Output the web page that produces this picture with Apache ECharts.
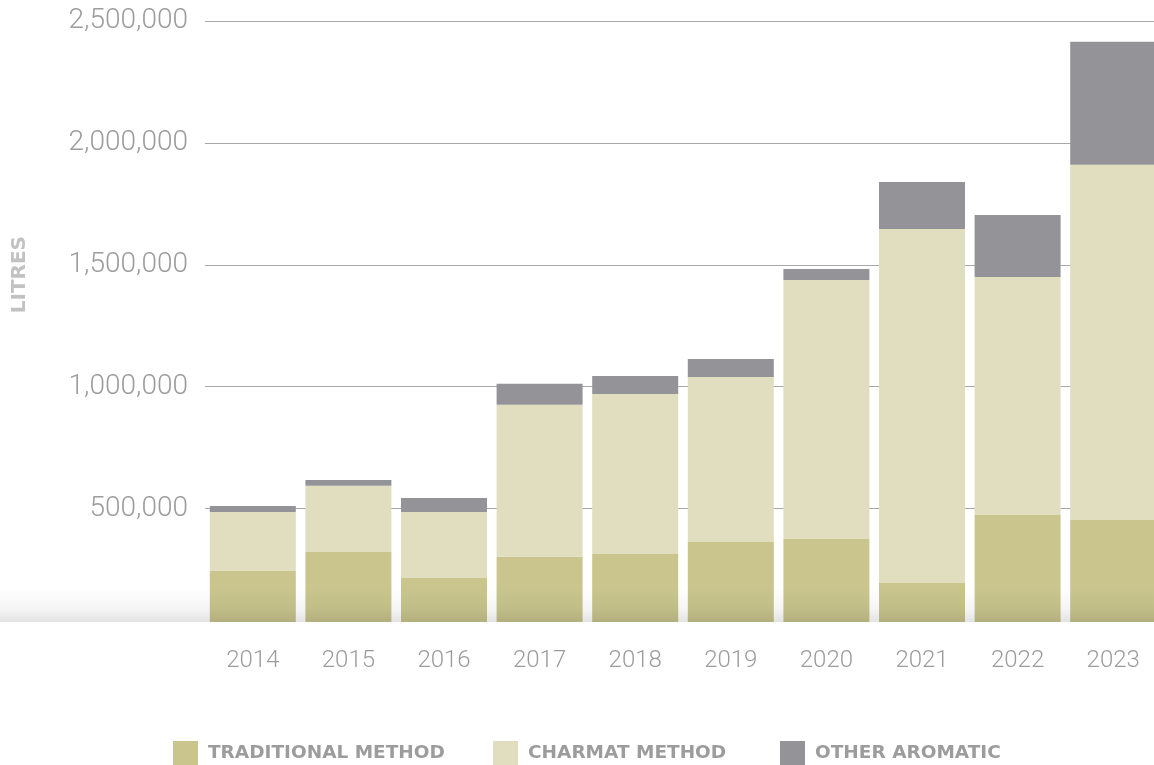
<!DOCTYPE html>
<html>
<head>
<meta charset="utf-8">
<title>Litres by method</title>
<script src="https://cdn.jsdelivr.net/npm/echarts@6/dist/echarts.min.js"></script>
<style>
  html, body { margin: 0; padding: 0; background: #fff; overflow: hidden; }
  /* last bar runs past the right edge in the original, so the canvas is a bit wider than the window */
  #chart { width: 1161px; height: 765px; }
</style>
</head>
<body>
<div id="chart"></div>
<script>
// data
const years = ['2014', '2015', '2016', '2017', '2018', '2019', '2020', '2021', '2022', '2023']
const traditional = [244000, 322000, 215000, 302000, 314000, 363000, 375000, 195000, 474000, 453000]
const charmat = [242000, 272000, 271000, 624000, 656000, 677000, 1063000, 1452000, 976000, 1457000]
const otherAromatic = [25000, 23000, 57000, 86000, 74000, 74000, 45000, 193000, 254000, 505000]

const seriesNames = ['TRADITIONAL METHOD', 'CHARMAT METHOD', 'OTHER AROMATIC']
const colors = ['#c9c58d', '#e1dec0', '#949498']

const labelGray = '#9c9c9c'

const chart = echarts.init(document.getElementById('chart'))

const legendLefts = [173, 493, 780]

chart.setOption({
  animation: false,
  color: colors,
  grid: {
    left: 205,
    top: 21,
    right: 0,
    height: 609.5
  },
  legend: seriesNames.map((name, i) => ({
    data: [name],
    left: legendLefts[i],
    top: 741,
    padding: 0,
    icon: 'rect',
    itemWidth: 25,
    itemHeight: 24,
    selectedMode: false,
    textStyle: {
      color: labelGray,
      fontFamily: 'DejaVu Sans',
      fontWeight: 'bold',
      fontSize: 18.5,
      padding: [4, 0, 0, 5]
    }
  })),
  xAxis: {
    type: 'category',
    data: years,
    axisLine: { show: false },
    axisTick: { show: false },
    axisLabel: {
      color: labelGray,
      fontFamily: 'Roboto',
      fontWeight: 300,
      fontSize: 24,
      margin: 18
    }
  },
  yAxis: {
    type: 'value',
    min: 0,
    max: 2500000,
    interval: 500000,
    axisLine: { show: false },
    axisTick: { show: false },
    splitLine: {
      lineStyle: { color: '#a8a8a8', width: 1 }
    },
    axisLabel: {
      showMinLabel: false,
      color: labelGray,
      fontFamily: 'Roboto',
      fontWeight: 300,
      fontSize: 28,
      margin: 17,
      padding: [4, 0, 0, 0],
      formatter: v => v.toLocaleString('en-US')
    }
  },
  series: [
    { name: seriesNames[0], type: 'bar', stack: 'total', barWidth: 86, data: traditional },
    { name: seriesNames[1], type: 'bar', stack: 'total', barWidth: 86, data: charmat },
    { name: seriesNames[2], type: 'bar', stack: 'total', barWidth: 86, data: otherAromatic }
  ],
  graphic: [
    {
      type: 'rect',
      z: 100,
      shape: { x: 0, y: 588, width: 1161, height: 34 },
      style: {
        fill: new echarts.graphic.LinearGradient(0, 0, 0, 1, [
          { offset: 0, color: 'rgba(0,0,0,0)' },
          { offset: 0.6, color: 'rgba(0,0,0,0.04)' },
          { offset: 1, color: 'rgba(0,0,0,0.11)' }
        ])
      }
    },
    {
      type: 'rect',
      z: 100,
      shape: { x: 0, y: 622, width: 1161, height: 18 },
      style: { fill: '#fff' }
    },
    {
      type: 'text',
      z: 100,
      left: 10,
      top: 236,
      rotation: Math.PI / 2,
      style: {
        text: 'LITRES',
        fill: '#c2c2c2',
        font: 'bold 20px "DejaVu Sans"'
      }
    }
  ]
})
</script>
</body>
</html>
